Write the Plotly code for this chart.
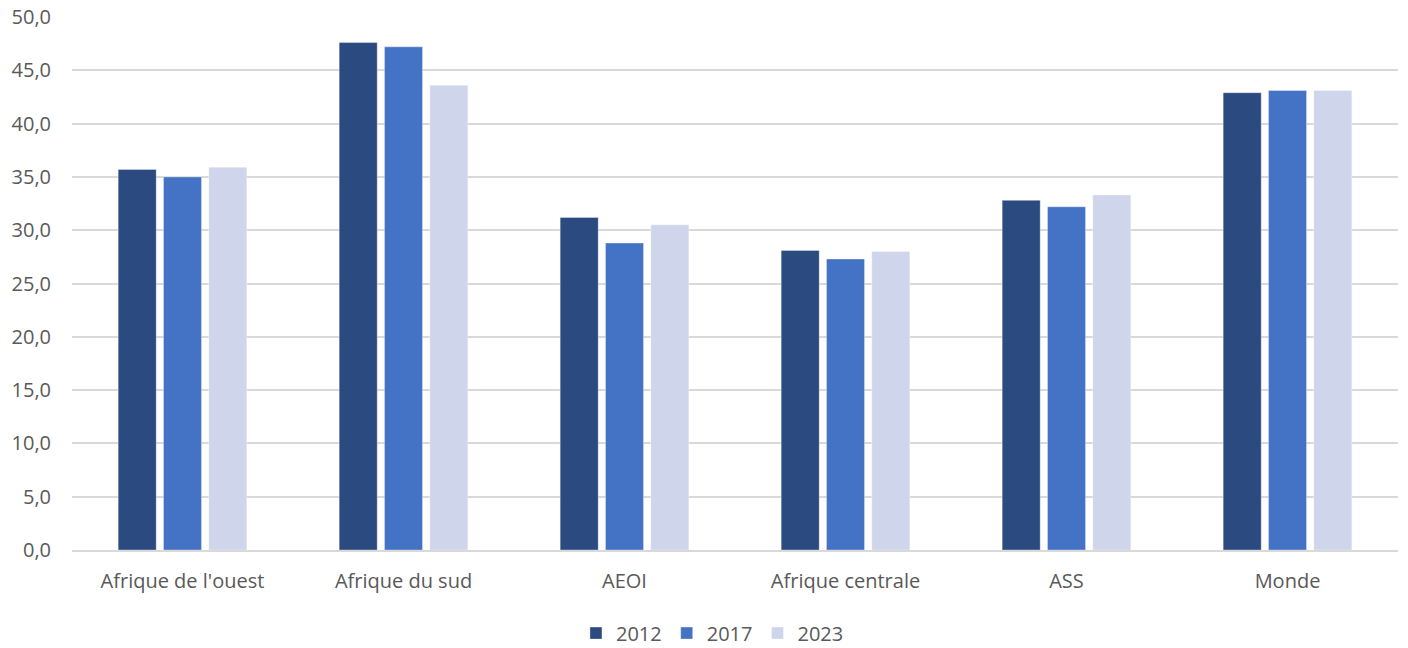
import plotly.graph_objects as go

categories = ["Afrique de l'ouest", "Afrique du sud", "AEOI", "Afrique centrale", "ASS", "Monde"]
v2012 = [35.7, 47.6, 31.2, 28.1, 32.8, 42.9]
v2017 = [35.0, 47.2, 28.8, 27.3, 32.2, 43.1]
v2023 = [35.9, 43.6, 30.5, 28.0, 33.3, 43.1]
series_names = ["2012", "2017", "2023"]
colors = ["#2A4A80", "#4472C4", "#CFD5EA"]
y_ticks = [0, 5, 10, 15, 20, 25, 30, 35, 40, 45, 50]
y_tick_labels = ["0,0", "5,0", "10,0", "15,0", "20,0", "25,0", "30,0", "35,0", "40,0", "45,0", "50,0"]

fig = go.Figure()
for name, vals, col in zip(series_names, [v2012, v2017, v2023], colors):
    fig.add_trace(go.Bar(
        x=categories, y=vals, name=name,
        marker=dict(color=col, line=dict(color="rgba(255,255,255,0.35)", width=1)),
    ))

font_family = "Open Sans, Liberation Sans, sans-serif"
fig.update_layout(
    width=1408, height=648,
    margin=dict(l=72, r=10, t=17, b=98),
    paper_bgcolor="white", plot_bgcolor="white",
    barmode="group", bargap=0.385, bargroupgap=0.16,
    font=dict(family=font_family, size=20, color="#595959"),
    legend=dict(orientation="h", x=0.483, xanchor="center", xref="paper",
                y=0.023, yanchor="middle", yref="container",
                font=dict(size=20, color="#595959"), itemwidth=30, traceorder="normal"),
    showlegend=True,
)
fig.update_yaxes(range=[0, 50], tickvals=y_ticks, ticktext=y_tick_labels,
                 showgrid=True, gridcolor="#D9D9D9", gridwidth=1.5, automargin=False,
                 zeroline=False, showline=False, ticks="", ticklabelstandoff=20,
                 tickfont=dict(size=20, color="#595959"))
fig.update_xaxes(showgrid=False, showline=True, linecolor="#D9D9D9", linewidth=1.5,
                 automargin=False,
                 ticks="", ticklabelstandoff=12, tickfont=dict(size=20, color="#595959"))

fig.write_html("out.html", config={"displayModeBar": False},
               post_script="document.body.style.margin='0';document.body.style.overflow='hidden';")
